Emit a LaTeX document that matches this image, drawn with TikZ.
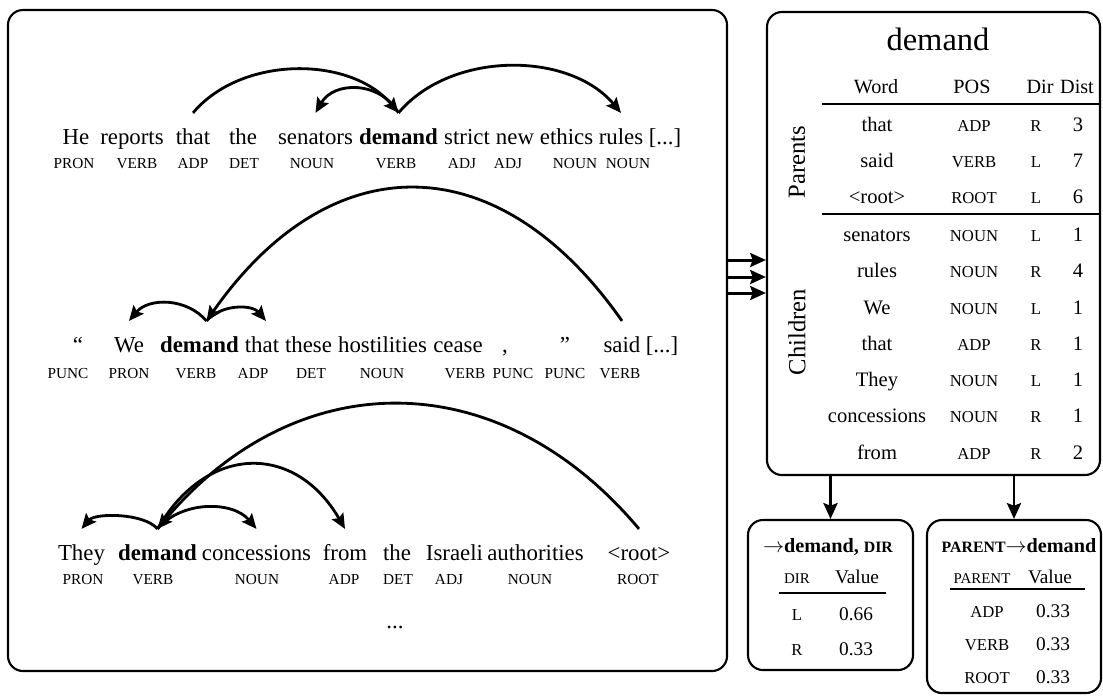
\documentclass[tikz,border=0pt]{standalone}
\usepackage{fontspec}
\setmainfont{Liberation Serif}
\usetikzlibrary{arrows.meta}
\newcommand{\fs}[1]{\fontsize{#1}{#1}\selectfont}

\begin{document}
\begin{tikzpicture}[scale=0.2,
    wd/.style={anchor=base, font=\fs{13}, text height=9pt, inner ysep=8.5pt},
    bwd/.style={wd, font=\fs{13}\bfseries},
    tag/.style={anchor=base, font=\fs{8.7}},
    arc/.style={line width=1.6pt, -{Stealth[length=8.5pt,width=7.5pt,inset=1.5pt]}},
    arr/.style={line width=1.7pt, -{Stealth[length=9pt,width=8pt,inset=1.5pt]}},
    panel/.style={draw, line width=1.2pt, rounded corners=8.5pt},
    cell/.style={anchor=base, font=\fs{11.7}},
    ctag/.style={anchor=base, font=\fs{9.5}},
    hd/.style={anchor=base, font=\fs{11.5}},
  ]
        \tikzstyle{every node}+=[inner sep=0pt]
        \useasboundingbox (0,0) rectangle (110.3,-69.6);
        % panels
        \node [panel, minimum width=14.38cm, minimum height=13.22cm] (sents) at (36.75,-34.05) {};
        \node [panel, minimum width=6.66cm, minimum height=9.26cm] (tbl) at (93.35,-24.35) {};
        \node [panel, minimum width=3.3cm, minimum height=3.0cm] (dirbox) at (83.05,-59.5) {};
        \node [panel, minimum width=3.48cm, minimum height=3.46cm] (parbox) at (101.4,-60.65) {};
        % sentence 1
        \node [wd] (he) at (7.6,-14.4) {He};
        \node [wd] (reports) at (13.2,-14.4) {reports};
        \node [wd] (that1) at (19.3,-14.4) {that};
        \node [wd] (the1) at (24.3,-14.4) {the};
        \node [wd] (senators) at (31.55,-14.4) {senators};
        \node [bwd] (demand1) at (39.85,-14.4) {demand};
        \node [wd] (strict) at (46.7,-14.4) {strict};
        \node [wd] (new) at (51.5,-14.4) {new};
        \node [wd] (ethics) at (56.65,-14.4) {ethics};
        \node [wd] (rules) at (62.1,-14.4) {rules};
        \node [wd] (etc1) at (66.5,-14.4) {[...]};
        \node [tag] (t1a) at (7.4,-16.8) {PRON};
        \node [tag] (t1b) at (13.7,-16.8) {VERB};
        \node [tag] (t1c) at (19.3,-16.8) {ADP};
        \node [tag] (t1d) at (24.4,-16.8) {DET};
        \node [tag] (t1e) at (31.2,-16.8) {NOUN};
        \node [tag] (t1f) at (39.6,-16.8) {VERB};
        \node [tag] (t1g) at (46.2,-16.8) {ADJ};
        \node [tag] (t1h) at (50.8,-16.8) {ADJ};
        \node [tag] (t1i) at (57.5,-16.8) {NOUN};
        \node [tag] (t1j) at (62.8,-16.8) {NOUN};
        \draw [arc] (that1.north) .. controls +(50:7.5) and +(130:7.5) .. (demand1.north);
        \draw [arc] (demand1.north) .. controls +(120:3.7) and +(60:3.7) .. (senators.north);
        \draw [arc] (demand1.north) .. controls +(50:8.1) and +(130:8.1) .. (rules.north);
        % sentence 2
        \node [wd] (lq) at (7.8,-35.2) {``};
        \node [wd] (we) at (12.9,-35.2) {We};
        \node [bwd] (demand2) at (19.95,-35.2) {demand};
        \node [wd] (that2) at (26.2,-35.2) {that};
        \node [wd] (these) at (30.85,-35.2) {these};
        \node [wd] (hostilities) at (38.25,-35.2) {hostilities};
        \node [wd] (cease) at (45.8,-35.2) {cease};
        \node [wd] (comma) at (50.5,-35.2) {,};
        \node [wd] (rq) at (56.5,-35.2) {''};
        \node [wd] (said) at (62.2,-35.2) {said};
        \node [wd] (etc2) at (66.2,-35.2) {[...]};
        \node [tag] (t2a) at (6.8,-37.8) {PUNC};
        \node [tag] (t2b) at (12.9,-37.8) {PRON};
        \node [tag] (t2c) at (19.6,-37.8) {VERB};
        \node [tag] (t2d) at (25.3,-37.8) {ADP};
        \node [tag] (t2e) at (31.1,-37.8) {DET};
        \node [tag] (t2f) at (38.2,-37.8) {NOUN};
        \node [tag] (t2g) at (46.5,-37.8) {VERB};
        \node [tag] (t2h) at (51.3,-37.8) {PUNC};
        \node [tag] (t2i) at (56.5,-37.8) {PUNC};
        \node [tag] (t2j) at (62.0,-37.8) {VERB};
        \coordinate (d2top) at (20.65,-32.1);
        \coordinate (t2top) at (26.6,-32.1);
        \draw [arc] (said.north) .. controls +(125:21.6) and +(55:21.6) .. (d2top);
        \draw [arc] (d2top) .. controls +(130:3.05) and +(50:3.05) .. (we.north);
        \draw [arc] (d2top) .. controls +(50:2.2) and +(130:2.2) .. (t2top);
        % sentence 3
        \node [wd] (they) at (8.15,-56.0) {They};
        \node [bwd] (demand3) at (15.75,-56.0) {demand};
        \node [wd] (concessions) at (25.65,-56.0) {concessions};
        \node [wd] (from) at (34.5,-56.0) {from};
        \node [wd] (the3) at (39.7,-56.0) {the};
        \node [wd] (israeli) at (45.45,-56.0) {Israeli};
        \node [wd] (authorities) at (53.55,-56.0) {authorities};
        \node [wd] (root) at (63.9,-56.0) {<root>};
        \node [tag] (t3a) at (8.3,-58.4) {PRON};
        \node [tag] (t3b) at (15.3,-58.4) {VERB};
        \node [tag] (t3c) at (25.7,-58.4) {NOUN};
        \node [tag] (t3d) at (34.4,-58.4) {ADP};
        \node [tag] (t3e) at (39.8,-58.4) {DET};
        \node [tag] (t3f) at (44.9,-58.4) {ADJ};
        \node [tag] (t3g) at (53.0,-58.4) {NOUN};
        \node [tag] (t3h) at (63.8,-58.4) {ROOT};
        \draw [arc] (root.north) .. controls +(130:21.7) and +(50:21.7) .. (demand3.north);
        \draw [arc] (demand3.north) .. controls +(130:2.1) and +(50:2.1) .. (they.north);
        \draw [arc] (demand3.north) .. controls +(50:3.7) and +(130:3.7) .. (concessions.north);
        \draw [arc] (demand3.north) .. controls +(60:9.9) and +(120:9.9) .. (from.north);
        \node [anchor=base, font=\fs{13}] (dots) at (39.5,-62.8) {...};
        % table of demand
        \node [anchor=base, font=\fs{18.5}] (head) at (93.8,-5.0) {demand};
        \node [hd] (hword) at (87.6,-9.3) {Word};
        \node [hd] (hpos) at (97.2,-9.3) {POS};
        \node [hd] (hdir) at (104.0,-9.3) {Dir};
        \node [hd] (hdist) at (107.7,-9.3) {Dist};
        \draw [line width=1.2pt] (82.2,-10.4) -- (tbl.east |- 0,-10.4);
        \draw [line width=1.2pt] (82.2,-21.4) -- (tbl.east |- 0,-21.4);
        \node [rotate=90, font=\fs{14}] (par) at (79.7,-16.2) {Parents};
        \node [rotate=90, font=\fs{14}] (chi) at (79.7,-33.2) {Children};
        \node [cell] at (87.7,-13.1) {that};
        \node [ctag] at (97.4,-13.1) {ADP};
        \node [ctag] at (103.6,-13.1) {R};
        \node [cell] at (107.8,-13.1) {3};
        \node [cell] at (87.7,-16.7) {said};
        \node [ctag] at (97.4,-16.7) {VERB};
        \node [ctag] at (103.6,-16.7) {L};
        \node [cell] at (107.8,-16.7) {7};
        \node [cell] at (87.7,-20.3) {<root>};
        \node [ctag] at (97.4,-20.3) {ROOT};
        \node [ctag] at (103.6,-20.3) {L};
        \node [cell] at (107.8,-20.3) {6};
        \node [cell] at (87.7,-24.1) {senators};
        \node [ctag] at (97.4,-24.1) {NOUN};
        \node [ctag] at (103.6,-24.1) {L};
        \node [cell] at (107.8,-24.1) {1};
        \node [cell] at (87.7,-27.75) {rules};
        \node [ctag] at (97.4,-27.75) {NOUN};
        \node [ctag] at (103.6,-27.75) {R};
        \node [cell] at (107.8,-27.75) {4};
        \node [cell] at (87.7,-31.4) {We};
        \node [ctag] at (97.4,-31.4) {NOUN};
        \node [ctag] at (103.6,-31.4) {L};
        \node [cell] at (107.8,-31.4) {1};
        \node [cell] at (87.7,-35.0) {that};
        \node [ctag] at (97.4,-35.0) {ADP};
        \node [ctag] at (103.6,-35.0) {R};
        \node [cell] at (107.8,-35.0) {1};
        \node [cell] at (87.7,-38.65) {They};
        \node [ctag] at (97.4,-38.65) {NOUN};
        \node [ctag] at (103.6,-38.65) {L};
        \node [cell] at (107.8,-38.65) {1};
        \node [cell] at (87.7,-42.25) {concessions};
        \node [ctag] at (97.4,-42.25) {NOUN};
        \node [ctag] at (103.6,-42.25) {R};
        \node [cell] at (107.8,-42.25) {1};
        \node [cell] at (87.7,-45.9) {from};
        \node [ctag] at (97.4,-45.9) {ADP};
        \node [ctag] at (103.6,-45.9) {R};
        \node [cell] at (107.8,-45.9) {2};
        % direction box
        \node [anchor=base, font=\fs{11.5}\bfseries] (dirtitle) at (82.8,-55.2) {$\rightarrow$demand, {\fs{9}DIR}};
        \node [anchor=base, font=\fs{8.5}] (dirh) at (79.7,-58.3) {DIR};
        \node [anchor=base, font=\fs{11}] (dirv) at (85.7,-58.3) {Value};
        \draw [line width=1.2pt] (77.9,-59.3) -- (88.6,-59.3);
        \node [ctag] at (79.7,-62.0) {L};
        \node [anchor=base, font=\fs{11}] at (85.6,-62.0) {0.66};
        \node [ctag] at (79.7,-65.5) {R};
        \node [anchor=base, font=\fs{11}] at (85.6,-65.5) {0.33};
        % parent box
        \node [anchor=base, font=\fs{11.5}\bfseries] (partitle) at (101.9,-55.2) {{\fs{9}PARENT}$\rightarrow$demand};
        \node [anchor=base, font=\fs{8.5}] (parh) at (98.2,-58.3) {PARENT};
        \node [anchor=base, font=\fs{11}] (parv) at (105.0,-58.3) {Value};
        \draw [line width=1.2pt] (95.0,-58.9) -- (108.5,-58.9);
        \node [ctag] at (98.7,-61.7) {ADP};
        \node [anchor=base, font=\fs{11}] at (105.3,-61.7) {0.33};
        \node [ctag] at (98.7,-65.0) {VERB};
        \node [anchor=base, font=\fs{11}] at (105.3,-65.0) {0.33};
        \node [ctag] at (98.7,-68.3) {ROOT};
        \node [anchor=base, font=\fs{11}] at (105.3,-68.3) {0.33};
        % arrows between panels
        \draw [arr] (sents.east |- 0,-26.0) -- (tbl.west |- 0,-26.0);
        \draw [arr] (sents.east |- 0,-27.7) -- (tbl.west |- 0,-27.7);
        \draw [arr] (sents.east |- 0,-29.3) -- (tbl.west |- 0,-29.3);
        \draw [arr] (dirbox.north |- tbl.south) -- (dirbox.north);
        \draw [arr] (parbox.north |- tbl.south) -- (parbox.north);
\end{tikzpicture}
\end{document}
